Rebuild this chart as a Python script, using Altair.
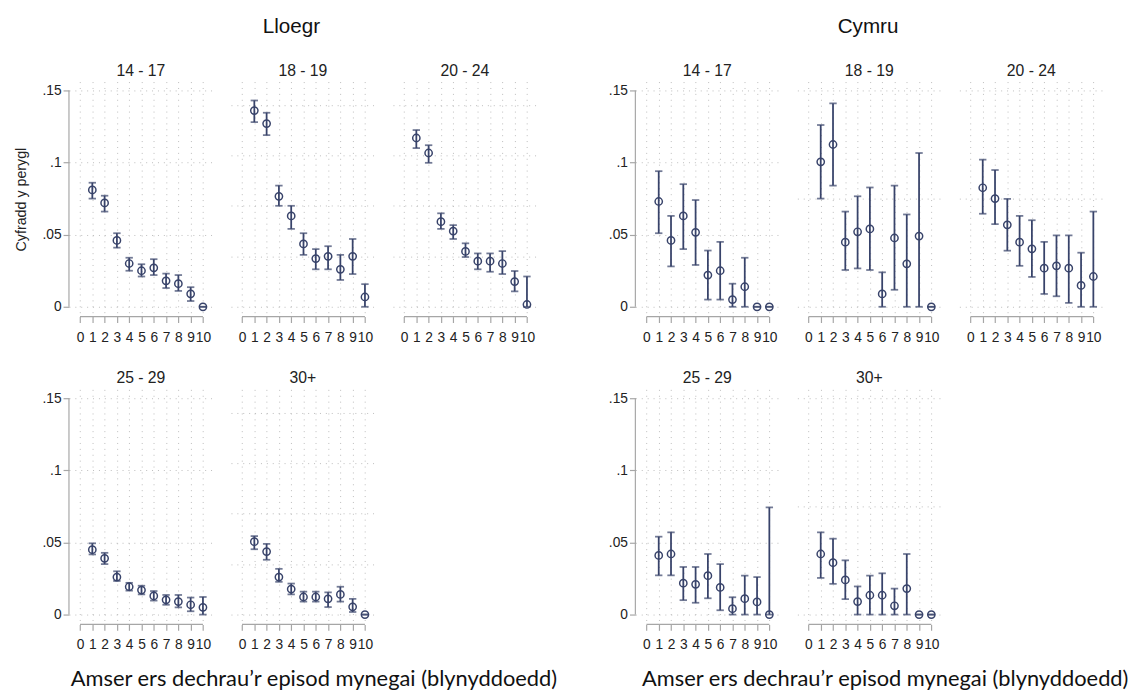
import altair as alt
import pandas as pd

YEARS = list(range(1, 11))
X_TICKS = list(range(0, 11))

# ---- Lloegr ----
L1417_EST = [0.081, 0.072, 0.046, 0.030, 0.025, 0.027, 0.018, 0.016, 0.009, 0.000]
L1417_LO = [0.075, 0.066, 0.041, 0.025, 0.021, 0.022, 0.013, 0.011, 0.004, 0.000]
L1417_HI = [0.086, 0.077, 0.051, 0.034, 0.0295, 0.033, 0.023, 0.022, 0.0136, 0.000]

L1819_EST = [0.136, 0.127, 0.0766, 0.063, 0.0436, 0.0334, 0.035, 0.026, 0.035, 0.0068]
L1819_LO = [0.128, 0.119, 0.070, 0.054, 0.036, 0.026, 0.026, 0.0186, 0.0227, 0.0]
L1819_HI = [0.143, 0.1345, 0.084, 0.070, 0.051, 0.040, 0.042, 0.036, 0.047, 0.0157]

L2024_EST = [0.117, 0.1066, 0.059, 0.0525, 0.0384, 0.0316, 0.0316, 0.030, 0.0175, 0.0016]
L2024_LO = [0.110, 0.0998, 0.054, 0.047, 0.0345, 0.026, 0.0243, 0.0227, 0.0107, 0.0]
L2024_HI = [0.1225, 0.112, 0.0648, 0.0566, 0.044, 0.037, 0.037, 0.0386, 0.0248, 0.021]

L2529_EST = [0.045, 0.039, 0.026, 0.0193, 0.017, 0.0129, 0.0102, 0.009, 0.0068, 0.005]
L2529_LO = [0.0417, 0.035, 0.0233, 0.0166, 0.014, 0.0097, 0.0068, 0.005, 0.0023, 0.0]
L2529_HI = [0.0494, 0.0428, 0.030, 0.022, 0.020, 0.0163, 0.0136, 0.0136, 0.0118, 0.0122]

L30_EST = [0.0505, 0.0437, 0.026, 0.0177, 0.0122, 0.0122, 0.0109, 0.014, 0.0054, 0.0]
L30_LO = [0.0453, 0.038, 0.0227, 0.014, 0.009, 0.009, 0.0052, 0.009, 0.0018, 0.0]
L30_HI = [0.0544, 0.049, 0.0317, 0.0215, 0.0159, 0.0159, 0.0154, 0.0193, 0.0109, 0.0]

# ---- Cymru ----
C1417_EST = [0.073, 0.046, 0.063, 0.0516, 0.022, 0.025, 0.005, 0.0139, 0.0, 0.0]
C1417_LO = [0.051, 0.028, 0.040, 0.029, 0.005, 0.005, 0.0, 0.0, 0.0, 0.0]
C1417_HI = [0.094, 0.063, 0.085, 0.074, 0.039, 0.045, 0.016, 0.034, 0.0, 0.0]

C1819_EST = [0.1005, 0.1125, 0.0448, 0.052, 0.054, 0.0089, 0.0477, 0.0298, 0.049, 0.0]
C1819_LO = [0.075, 0.084, 0.0255, 0.0266, 0.0255, 0.0, 0.0118, 0.0, 0.0, 0.0]
C1819_HI = [0.126, 0.141, 0.066, 0.0766, 0.0827, 0.0239, 0.084, 0.064, 0.1066, 0.0]

C2024_EST = [0.0825, 0.075, 0.0568, 0.0448, 0.0402, 0.0268, 0.0284, 0.0268, 0.0148, 0.021]
C2024_LO = [0.0645, 0.0573, 0.0389, 0.0284, 0.0207, 0.0089, 0.0073, 0.0027, 0.0, 0.0]
C2024_HI = [0.102, 0.0948, 0.0748, 0.063, 0.060, 0.045, 0.0495, 0.0495, 0.0375, 0.066]

C2529_EST = [0.041, 0.042, 0.0218, 0.021, 0.027, 0.0188, 0.0041, 0.011, 0.0088, 0.0]
C2529_LO = [0.0272, 0.0272, 0.010, 0.0082, 0.0113, 0.003, 0.0, 0.0, 0.0, 0.0]
C2529_HI = [0.054, 0.057, 0.033, 0.033, 0.042, 0.035, 0.012, 0.027, 0.026, 0.0743]

C30_EST = [0.042, 0.036, 0.024, 0.009, 0.0134, 0.0134, 0.0061, 0.018, 0.0, 0.0]
C30_LO = [0.0254, 0.0213, 0.0107, 0.0, 0.0, 0.0, 0.0, 0.0, 0.0, 0.0]
C30_HI = [0.057, 0.0526, 0.0376, 0.0195, 0.027, 0.0286, 0.018, 0.042, 0.0, 0.0]

Y_LABEL_VALUES = [0, 0.05, 0.1, 0.15]
GRID_LLOEGR = [0, 0.035, 0.07, 0.105, 0.14]
GRID_CYMRU = [0, 0.075, 0.15]

AGE_GROUPS = ["14 - 17", "18 - 19", "20 - 24", "25 - 29", "30+"]
Y_TITLE = "Cyfradd y perygl"
X_TITLE = "Amser ers dechrau\u2019r episod mynegai (blynyddoedd)"

NAVY = "#38436a"
GRID = "#bcbcbc"
AXIS = "#a6a6a6"
TEXT = "#222222"
FONT = "Liberation Sans"

W = 146.25
H = 239
XDOM = [-0.9, 10.8]
YDOM = [-0.0068, 0.1561]


def panel(title, est, lo, hi, first_col, grid_vals, ytitle=None):
    df = pd.DataFrame({"year": YEARS, "est": est, "lo": lo, "hi": hi})
    xs = alt.Scale(domain=XDOM, nice=False, zero=False)
    ys = alt.Scale(domain=YDOM, nice=False, zero=False)
    xaxis = alt.Axis(values=X_TICKS, format="d", grid=True, gridColor=GRID,
                     gridDash=[1, 5], gridWidth=1, domain=False, ticks=True,
                     tickColor=AXIS, tickSize=6, tickWidth=1.2,
                     labelFont=FONT, labelFontSize=14, labelColor=TEXT,
                     labelPadding=8, labelFlush=False, labelOverlap=False,
                     title=None)
    if first_col:
        yaxis = alt.Axis(values=Y_LABEL_VALUES, grid=True, gridColor=GRID,
                         gridDash=[1, 5], gridWidth=1, domain=False,
                         tickColor=AXIS, tickSize=6, tickWidth=1.2,
                         labelFont=FONT, labelFontSize=14, labelColor=TEXT,
                         labelPadding=2, labelFlush=False, labelOverlap=False,
                         labelExpr="datum.value == 0 ? '0' : replace(format(datum.value, '.2~f'), '0.', '.')",
                         title=ytitle, titleFont=FONT, titleFontSize=14.5,
                         titleFontWeight="normal", titleColor=TEXT,
                         titlePadding=14)
    else:
        yaxis = alt.Axis(values=grid_vals, grid=True, gridColor=GRID,
                         gridDash=[1, 5], gridWidth=1, domain=False,
                         ticks=False, labels=False, title=None)
    base = alt.Chart(df)
    X = alt.X("year:Q", scale=xs, axis=xaxis)
    bars = base.mark_rule(color=NAVY, strokeWidth=1.8).encode(
        x=X, y=alt.Y("lo:Q", scale=ys, axis=yaxis), y2="hi:Q")
    cap_lo = base.mark_tick(orient="horizontal", color=NAVY, size=7.5, thickness=1.8).encode(
        x=X, y=alt.Y("lo:Q", scale=ys, axis=yaxis))
    cap_hi = base.mark_tick(orient="horizontal", color=NAVY, size=7.5, thickness=1.8).encode(
        x=X, y=alt.Y("hi:Q", scale=ys, axis=yaxis))
    pts = base.mark_point(shape="circle", filled=False, size=55, color=NAVY,
                          strokeWidth=1.5, opacity=1).encode(
        x=X, y=alt.Y("est:Q", scale=ys, axis=yaxis))
    one = alt.Chart(pd.DataFrame({"k": [0]}))
    xline = one.mark_rule(color=AXIS, strokeWidth=1.2).encode(
        x=alt.XDatum(0, scale=xs, axis=xaxis), x2=alt.X2Datum(10), y=alt.value(H))
    layers = [bars, cap_lo, cap_hi, pts, xline]
    if first_col:
        yline = one.mark_rule(color=AXIS, strokeWidth=1.2).encode(
            y=alt.YDatum(0, scale=ys, axis=yaxis), y2=alt.Y2Datum(0.15), x=alt.value(0))
        layers.append(yline)
    return alt.layer(*layers).properties(
        width=W, height=H,
        title=alt.TitleParams(title, font=FONT, fontSize=16, fontWeight="normal",
                              color=TEXT, offset=3, anchor="middle"))


def group(name, data, grid_vals, ytitle, title_dx, xtitle_dx):
    p = []
    for i in range(5):
        yt = None
        if ytitle is not None and i == 0:
            yt = ytitle
        elif ytitle is not None and i == 3:
            yt = " "
        p.append(panel(AGE_GROUPS[i], *data[i], first_col=(i in (0, 3)),
                       grid_vals=grid_vals, ytitle=yt))
    row1 = alt.hconcat(p[0], p[1], p[2], spacing=17.75)
    row2 = alt.hconcat(p[3], p[4], spacing=17.75)
    g = alt.vconcat(row1, row2, spacing=27).properties(
        title=alt.TitleParams(name, font=FONT, fontSize=21, fontWeight="normal",
                              color="#111111", anchor="middle",
                              dx=title_dx, offset=26))
    return alt.vconcat(g).properties(
        title=alt.TitleParams(X_TITLE, orient="bottom", font="Lato", fontSize=22.2,
                              fontWeight="normal", color="#111111", anchor="middle",
                              dx=xtitle_dx, offset=17))


lloegr = group("Lloegr",
               [(L1417_EST, L1417_LO, L1417_HI), (L1819_EST, L1819_LO, L1819_HI),
                (L2024_EST, L2024_LO, L2024_HI), (L2529_EST, L2529_LO, L2529_HI),
                (L30_EST, L30_LO, L30_HI)],
               GRID_LLOEGR, Y_TITLE, 16.5, 39.5)
cymru = group("Cymru",
              [(C1417_EST, C1417_LO, C1417_HI), (C1819_EST, C1819_LO, C1819_HI),
               (C2024_EST, C2024_LO, C2024_HI), (C2529_EST, C2529_LO, C2529_HI),
               (C30_EST, C30_LO, C30_HI)],
              GRID_CYMRU, None, 12.5, 30)

chart = alt.hconcat(lloegr, cymru, spacing=51).properties(
    padding={"left": 5, "top": 3, "right": 0, "bottom": 0},
    background="white"
).configure_view(stroke=None)

chart.save("out.html", embed_options={"renderer": "svg", "actions": False})
